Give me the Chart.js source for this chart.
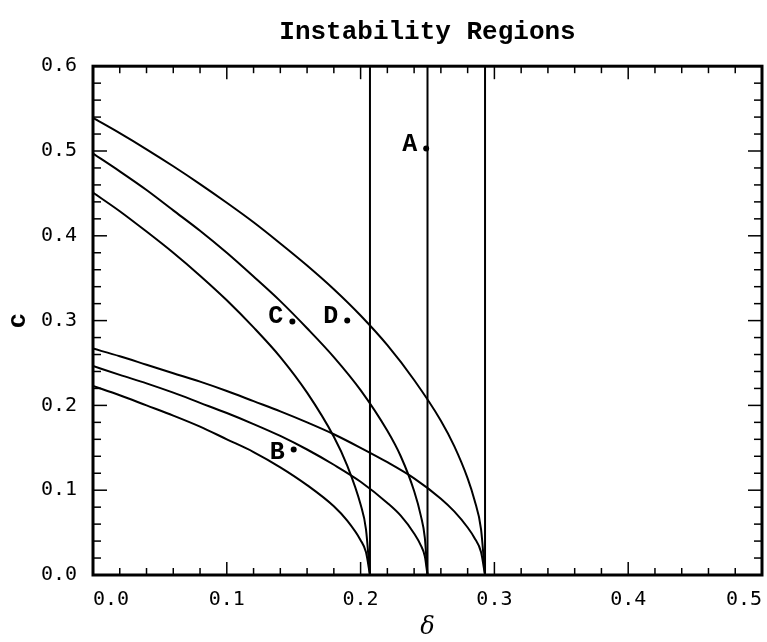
<!DOCTYPE html>
<html>
<head>
<meta charset="utf-8">
<script src="https://cdn.jsdelivr.net/npm/chart.js@4.4.0/dist/chart.umd.min.js"></script>
<style>
  html, body { margin: 0; padding: 0; background: #fff; }
</style>
</head>
<body>
<canvas id="myChart" width="767" height="642"></canvas>
<script>
// curves ending at delta = 0.293 (upper and lower branch)
var deltaOuter = [0, 0.02, 0.04, 0.06, 0.08, 0.10, 0.12, 0.14, 0.16, 0.18, 0.20, 0.22, 0.24, 0.26, 0.27, 0.28, 0.285, 0.29, 0.293];
var cOuterHigh = [0.539, 0.521, 0.502, 0.482, 0.461, 0.439, 0.416, 0.391, 0.365, 0.337, 0.306, 0.271, 0.230, 0.182, 0.152, 0.114, 0.089, 0.054, 0];
var cOuterLow = [0.267, 0.258, 0.248, 0.238, 0.228, 0.217, 0.205, 0.193, 0.180, 0.166, 0.150, 0.133, 0.114, 0.090, 0.075, 0.056, 0.044, 0.027, 0];

// curves ending at delta = 0.25
var deltaMiddle = [0, 0.02, 0.04, 0.06, 0.08, 0.10, 0.12, 0.14, 0.16, 0.18, 0.20, 0.22, 0.23, 0.24, 0.245, 0.248, 0.25];
var cMiddleHigh = [0.497, 0.476, 0.454, 0.430, 0.406, 0.380, 0.352, 0.323, 0.291, 0.257, 0.218, 0.170, 0.140, 0.099, 0.070, 0.044, 0];
var cMiddleLow = [0.2465, 0.236, 0.226, 0.215, 0.203, 0.191, 0.178, 0.164, 0.148, 0.130, 0.110, 0.085, 0.070, 0.049, 0.035, 0.022, 0];

// curves ending at delta = 0.207
var deltaInner = [0, 0.02, 0.04, 0.06, 0.08, 0.10, 0.12, 0.14, 0.16, 0.18, 0.19, 0.20, 0.204, 0.207];
var cInnerHigh = [0.451, 0.429, 0.405, 0.380, 0.353, 0.324, 0.292, 0.257, 0.215, 0.163, 0.129, 0.083, 0.054, 0];
var cInnerLow = [0.223, 0.212, 0.200, 0.188, 0.175, 0.160, 0.145, 0.127, 0.106, 0.081, 0.064, 0.041, 0.027, 0];

// vertical boundaries
var boundaryDelta = [0.207, 0.25, 0.293];
var boundaryC = [0, 0.6];

// marked points
var pointNames = ['A', 'B', 'C', 'D'];
var pointDelta = [0.249, 0.15, 0.149, 0.19];
var pointC = [0.503, 0.148, 0.299, 0.300];

var xTicks = [0, 0.1, 0.2, 0.3, 0.4, 0.5];
var yTicks = [0, 0.1, 0.2, 0.3, 0.4, 0.5, 0.6];

function toXY(xs, ys) {
    return xs.map(function (x, i) { return { x: x, y: ys[i] }; });
}

function curve(xs, ys) {
    return {
        data: toXY(xs, ys),
        showLine: true,
        borderColor: '#000',
        borderWidth: 2,
        pointRadius: 0,
        cubicInterpolationMode: 'monotone',
        fill: false
    };
}

var datasets = [
    curve(deltaOuter, cOuterHigh),
    curve(deltaOuter, cOuterLow),
    curve(deltaMiddle, cMiddleHigh),
    curve(deltaMiddle, cMiddleLow),
    curve(deltaInner, cInnerHigh),
    curve(deltaInner, cInnerLow)
];

boundaryDelta.forEach(function (d) {
    datasets.push({
        data: boundaryC.map(function (c) { return { x: d, y: c }; }),
        showLine: true,
        borderColor: '#000',
        borderWidth: 2,
        pointRadius: 0,
        fill: false
    });
});

// the lettered points
datasets.push({
    data: toXY(pointDelta, pointC),
    showLine: false,
    pointRadius: 3,
    pointBackgroundColor: '#000',
    pointBorderWidth: 0
});

// inward ticks on all four sides + heavy frame
var frameTicks = {
    id: 'frameTicks',
    afterDraw: function (chart) {
        var ctx = chart.ctx;
        var a = chart.chartArea;
        var xs = chart.scales.x, ys = chart.scales.y;
        function seg(x1, y1, x2, y2) {
            ctx.beginPath();
            ctx.moveTo(x1, y1);
            ctx.lineTo(x2, y2);
            ctx.stroke();
        }
        ctx.save();
        ctx.strokeStyle = '#000';
        ctx.lineWidth = 1.5;
        for (var i = 1; i < 25; i++) {
            var px = xs.getPixelForValue(i / 50);
            var len = (i % 5 === 0) ? 13 : 7;
            seg(px, a.bottom, px, a.bottom - len);
            seg(px, a.top, px, a.top + len);
        }
        for (var j = 1; j < 30; j++) {
            var py = ys.getPixelForValue(j / 50);
            var len2 = (j % 5 === 0) ? 14 : 8;
            seg(a.left, py, a.left + len2, py);
            seg(a.right, py, a.right - len2, py);
        }
        ctx.lineWidth = 3;
        ctx.strokeRect(a.left, a.top, a.right - a.left, a.bottom - a.top);
        ctx.restore();
    }
};

// letters next to the points
var pointLabels = {
    id: 'pointLabels',
    afterDatasetsDraw: function (chart) {
        var ctx = chart.ctx;
        var xs = chart.scales.x, ys = chart.scales.y;
        var lift = [2, 9, 1, 1];
        ctx.save();
        ctx.fillStyle = '#000';
        ctx.font = 'bold 25px "Liberation Mono"';
        ctx.textAlign = 'right';
        ctx.textBaseline = 'alphabetic';
        for (var i = 0; i < pointNames.length; i++) {
            var px = xs.getPixelForValue(pointDelta[i]);
            var py = ys.getPixelForValue(pointC[i]);
            ctx.fillText(pointNames[i], px - 9, py + lift[i] + 1);
        }
        ctx.restore();
    }
};

var tickFont = { family: '"DejaVu Sans Mono"', size: 20 };

var ctx = document.getElementById('myChart').getContext('2d');
var chart = new Chart(ctx, {
    type: 'scatter',
    data: { datasets: datasets },
    options: {
        responsive: false,
        animation: false,
        events: [],
        layout: { padding: { left: 0, right: 5, top: 0, bottom: 0 } },
        plugins: {
            legend: { display: false },
            tooltip: { enabled: false },
            title: {
                display: true,
                text: 'Instability Regions',
                fullSize: false,
                color: '#000',
                font: { family: '"Liberation Mono"', size: 26, weight: 'bold' },
                padding: { top: 17, bottom: 18 }
            }
        },
        scales: {
            x: {
                type: 'linear',
                min: 0,
                max: 0.5,
                afterFit: function (s) { s.height = 67; },
                afterBuildTicks: function (s) { s.ticks = xTicks.map(function (v) { return { value: v }; }); },
                grid: { display: false },
                border: { display: false },
                ticks: {
                    align: 'inner',
                    padding: 5,
                    color: '#000',
                    font: tickFont,
                    maxRotation: 0,
                    callback: function (v) { return v.toFixed(1); }
                },
                title: {
                    display: true,
                    text: 'δ',
                    color: '#000',
                    font: { family: '"DejaVu Serif"', size: 24, style: 'italic' },
                    padding: 0
                }
            },
            y: {
                type: 'linear',
                min: 0,
                max: 0.6,
                afterFit: function (s) { s.width = 93; },
                afterBuildTicks: function (s) { s.ticks = yTicks.map(function (v) { return { value: v }; }); },
                grid: { display: false },
                border: { display: false },
                ticks: {
                    padding: 8,
                    color: '#000',
                    font: tickFont,
                    callback: function (v) { return v.toFixed(1); }
                },
                title: {
                    display: true,
                    text: 'c',
                    color: '#000',
                    font: { family: '"Liberation Mono"', size: 26, weight: 'bold' },
                    padding: { top: 3, bottom: 0 }
                }
            }
        }
    },
    plugins: [frameTicks, pointLabels]
});
</script>
</body>
</html>
